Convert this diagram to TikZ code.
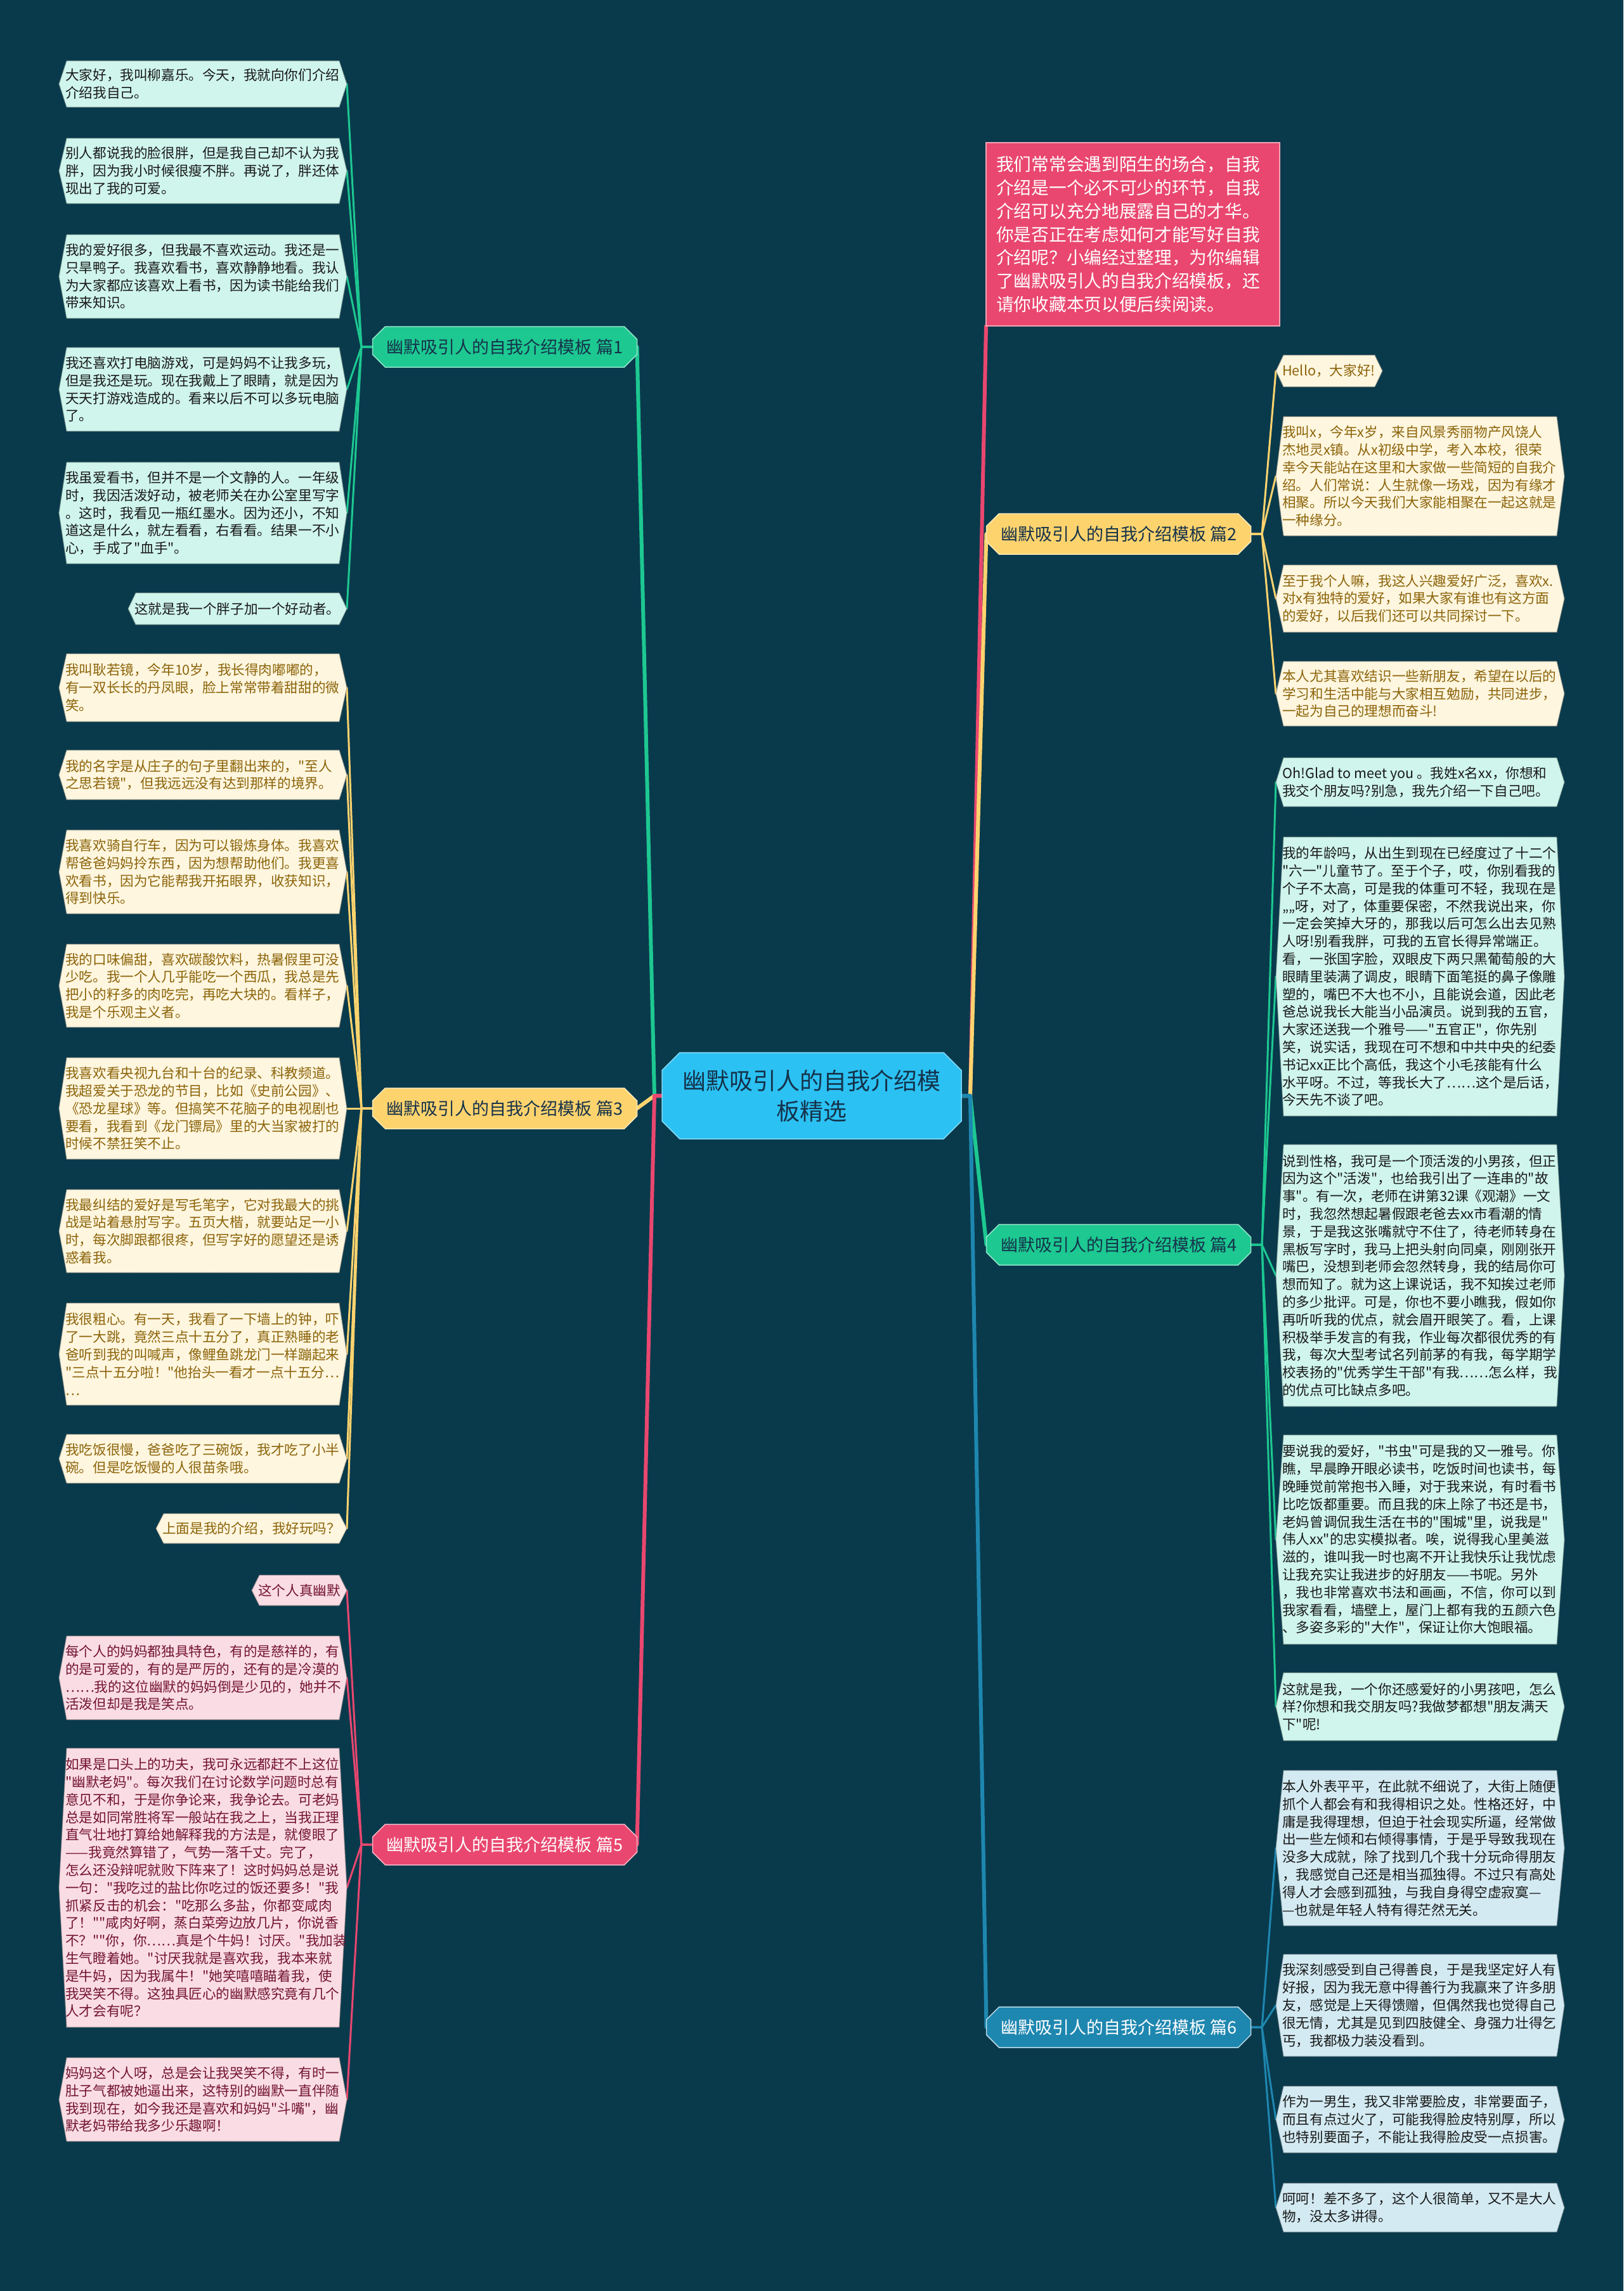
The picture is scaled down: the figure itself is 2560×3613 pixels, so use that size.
\documentclass[tikz,border=0pt]{standalone}
\usepackage{fontspec}
\setmainfont{Noto Sans CJK SC}
\newfontfamily\leaffam{Noto Sans CJK SC}
\usetikzlibrary{shapes.misc,backgrounds}
\definecolor{bg}{RGB}{9,58,76}
\definecolor{cyanC}{RGB}{43,193,243}
\definecolor{greenB}{RGB}{29,200,145}
\definecolor{yellowB}{RGB}{253,211,110}
\definecolor{pinkB}{RGB}{233,71,111}
\definecolor{blueB}{RGB}{30,135,176}
\definecolor{mintF}{RGB}{207,245,236}
\definecolor{creamF}{RGB}{254,246,223}
\definecolor{pinkF}{RGB}{250,221,228}
\definecolor{blueF}{RGB}{211,234,242}
\definecolor{goldT}{RGB}{140,100,10}
\definecolor{maroonT}{RGB}{115,20,50}
\definecolor{darkT}{RGB}{25,25,25}
\definecolor{navyT}{RGB}{21,50,74}
\newcommand\mmleaf[7]{%
  \path[leafshape,#6 shape] (#2+12,#3) -- (#4-12,#3) -- (#4,{(#3+#5)/2}) -- (#4-12,#5) -- (#2+12,#5) -- (#2,{(#3+#5)/2}) -- cycle;
  \node[leafbox,minimum width={(#4-#2)*1pt},minimum height={(#5-#3)*1pt}] (#1) at ({(#2+#4)/2},{(#3+#5)/2}) {};
  \node[leaftext,#6 text] (#1t) at (#2+10,{(#3+#5)/2}) {#7};
}
\begin{document}
\begin{tikzpicture}[x=1pt,y=-1pt,
  mint shape/.style={fill=mintF, draw=mintF!55!black},
  mint text/.style={text=darkT},
  cream shape/.style={fill=creamF, draw=creamF!55!black},
  cream text/.style={text=goldT},
  rose shape/.style={fill=pinkF, draw=pinkF!55!black},
  rose text/.style={text=maroonT},
  sky shape/.style={fill=blueF, draw=blueF!55!black},
  sky text/.style={text=darkT},
  leafshape/.style={densely dotted, line width=1.2pt},
  leafbox/.style={rectangle, inner sep=0pt, outer sep=0pt},
  leaftext/.style={anchor=west, align=left, inner sep=0pt, font=\leaffam\fontsize{21.6}{27.8}\selectfont},
  branch/.style={chamfered rectangle, chamfered rectangle xsep=10pt, chamfered rectangle ysep=10pt,
     minimum width=417pt, minimum height=64pt, inner sep=0pt, outer sep=0pt,
     font=\fontsize{27}{32}\selectfont, line width=1.5pt},
  conn/.style={line width=3pt, line cap=round, line join=round},
  mainconn/.style={line width=6pt, line cap=round, line join=round}
]
\useasboundingbox (0,0) rectangle (2560,3613);

% centre
\node[chamfered rectangle, chamfered rectangle xsep=14pt, chamfered rectangle ysep=14pt,
  minimum width=472pt, minimum height=136pt, inner sep=0pt, fill=cyanC, draw=cyanC!60!white,
  line width=1.5pt, align=center, text=navyT, font=\fontsize{37}{48}\selectfont]
  (center) at (1280,1728) {幽默吸引人的自我介绍模\\板精选};

% branches
\node[branch, fill=greenB, draw=greenB!50!white, text=navyT] (b1) at (796,547) {幽默吸引人的自我介绍模板 篇1};
\node[branch, fill=yellowB, draw=yellowB!50!white, text=navyT] (b3) at (796,1748) {幽默吸引人的自我介绍模板 篇3};
\node[branch, fill=pinkB, draw=pinkB!40!white, text=white] (b5) at (796,2909) {幽默吸引人的自我介绍模板 篇5};
\node[branch, fill=yellowB, draw=yellowB!50!white, text=navyT] (b2) at (1764,842) {幽默吸引人的自我介绍模板 篇2};
\node[branch, fill=greenB, draw=greenB!50!white, text=navyT] (b4) at (1764,1963) {幽默吸引人的自我介绍模板 篇4};
\node[branch, fill=blueB, draw=blueB!30!white, text=white] (b6) at (1764,3197) {幽默吸引人的自我介绍模板 篇6};

% intro
\node[chamfered rectangle, chamfered rectangle xsep=14pt, chamfered rectangle ysep=14pt,
  minimum width=463pt, minimum height=289pt, inner sep=0pt, fill=pinkB, draw=pinkB!50!white, line width=1.5pt]
  (intro) at (1786.5,369.5) {};
\node[anchor=west, align=left, inner sep=0pt, text=white, font=\fontsize{27.7}{36.7}\selectfont]
  (introT) at (1571,369.5) {我们常常会遇到陌生的场合，自我\\介绍是一个必不可少的环节，自我\\介绍可以充分地展露自己的才华。\\你是否正在考虑如何才能写好自我\\介绍呢？小编经过整理，为你编辑\\了幽默吸引人的自我介绍模板，还\\请你收藏本页以便后续阅读。};

% branch 1 leaves
\mmleaf{L1a}{93}{96}{547}{169}{mint}{大家好，我叫柳嘉乐。今天，我就向你们介绍\\介绍我自己。}
\mmleaf{L1b}{93}{218}{547}{321}{mint}{别人都说我的脸很胖，但是我自己却不认为我\\胖，因为我小时候很瘦不胖。再说了，胖还体\\现出了我的可爱。}
\mmleaf{L1c}{93}{370}{547}{502}{mint}{我的爱好很多，但我最不喜欢运动。我还是一\\只旱鸭子。我喜欢看书，喜欢静静地看。我认\\为大家都应该喜欢上看书，因为读书能给我们\\带来知识。}
\mmleaf{L1d}{93}{548}{547}{680}{mint}{我还喜欢打电脑游戏，可是妈妈不让我多玩，\\但是我还是玩。现在我戴上了眼睛，就是因为\\天天打游戏造成的。看来以后不可以多玩电脑\\了。}
\mmleaf{L1e}{93}{729}{547}{889}{mint}{我虽爱看书，但并不是一个文静的人。一年级\\时，我因活泼好动，被老师关在办公室里写字\\。这时，我看见一瓶红墨水。因为还小，不知\\道这是什么，就左看看，右看看。结果一不小\\心，手成了"血手"。}
\mmleaf{L1f}{202}{935}{547}{985}{mint}{这就是我一个胖子加一个好动者。}

% branch 3 leaves
\mmleaf{L3a}{93}{1031}{547}{1138}{cream}{我叫耿若镜，今年10岁，我长得肉嘟嘟的，\\有一双长长的丹凤眼，脸上常常带着甜甜的微\\笑。}
\mmleaf{L3b}{93}{1183}{547}{1261}{cream}{我的名字是从庄子的句子里翻出来的，"至人\\之思若镜"，但我远远没有达到那样的境界。}
\mmleaf{L3c}{93}{1309}{547}{1441}{cream}{我喜欢骑自行车，因为可以锻炼身体。我喜欢\\帮爸爸妈妈拎东西，因为想帮助他们。我更喜\\欢看书，因为它能帮我开拓眼界，收获知识，\\得到快乐。}
\mmleaf{L3d}{93}{1489}{547}{1620}{cream}{我的口味偏甜，喜欢碳酸饮料，热暑假里可没\\少吃。我一个人几乎能吃一个西瓜，我总是先\\把小的籽多的肉吃完，再吃大块的。看样子，\\我是个乐观主义者。}
\mmleaf{L3e}{93}{1668}{547}{1828}{cream}{我喜欢看央视九台和十台的纪录、科教频道。\\我超爱关于恐龙的节目，比如《史前公园》、\\《恐龙星球》等。但搞笑不花脑子的电视剧也\\要看，我看到《龙门镖局》里的大当家被打的\\时候不禁狂笑不止。}
\mmleaf{L3f}{93}{1876}{547}{2007}{cream}{我最纠结的爱好是写毛笔字，它对我最大的挑\\战是站着悬肘写字。五页大楷，就要站足一小\\时，每次脚跟都很疼，但写字好的愿望还是诱\\惑着我。}
\mmleaf{L3g}{93}{2055}{547}{2216}{cream}{我很粗心。有一天，我看了一下墙上的钟，吓\\了一大跳，竟然三点十五分了，真正熟睡的老\\爸听到我的叫喊声，像鲤鱼跳龙门一样蹦起来\\"三点十五分啦！"他抬头一看才一点十五分…\\…}
\mmleaf{L3h}{93}{2262}{547}{2339}{cream}{我吃饭很慢，爸爸吃了三碗饭，我才吃了小半\\碗。但是吃饭慢的人很苗条哦。}
\mmleaf{L3i}{246}{2387}{547}{2434}{cream}{上面是我的介绍，我好玩吗？}

% branch 5 leaves
\mmleaf{L5a}{397}{2484}{547}{2532}{rose}{这个人真幽默}
\mmleaf{L5b}{93}{2580}{547}{2712}{rose}{每个人的妈妈都独具特色，有的是慈祥的，有\\的是可爱的，有的是严厉的，还有的是冷漠的\\……我的这位幽默的妈妈倒是少见的，她并不\\活泼但却是我是笑点。}
\mmleaf{L5c}{93}{2757}{547}{3197}{rose}{如果是口头上的功夫，我可永远都赶不上这位\\"幽默老妈"。每次我们在讨论数学问题时总有\\意见不和，于是你争论来，我争论去。可老妈\\总是如同常胜将军一般站在我之上，当我正理\\直气壮地打算给她解释我的方法是，就傻眼了\\——我竟然算错了，气势一落千丈。完了，\\怎么还没辩呢就败下阵来了！这时妈妈总是说\\一句："我吃过的盐比你吃过的饭还要多！"我\\抓紧反击的机会："吃那么多盐，你都变咸肉\\了！""咸肉好啊，蒸白菜旁边放几片，你说香\\不？""你，你……真是个牛妈！讨厌。"我加装\\生气瞪着她。"讨厌我就是喜欢我，我本来就\\是牛妈，因为我属牛！"她笑嘻嘻瞄着我，使\\我哭笑不得。这独具匠心的幽默感究竟有几个\\人才会有呢？}
\mmleaf{L5d}{93}{3245}{547}{3377}{rose}{妈妈这个人呀，总是会让我哭笑不得，有时一\\肚子气都被她逼出来，这特别的幽默一直伴随\\我到现在，如今我还是喜欢和妈妈"斗嘴"，幽\\默老妈带给我多少乐趣啊！}

% branch 2 leaves
\mmleaf{R2a}{2012}{560}{2180}{610}{cream}{Hello，大家好!}
\mmleaf{R2b}{2012}{657}{2467}{845}{cream}{我叫x，今年x岁，来自风景秀丽物产风饶人\\杰地灵x镇。从x初级中学，考入本校，很荣\\幸今天能站在这里和大家做一些简短的自我介\\绍。人们常说：人生就像一场戏，因为有缘才\\相聚。所以今天我们大家能相聚在一起这就是\\一种缘分。}
\mmleaf{R2c}{2012}{891}{2467}{997}{cream}{至于我个人嘛，我这人兴趣爱好广泛，喜欢x.\\对x有独特的爱好，如果大家有谁也有这方面\\的爱好，以后我们还可以共同探讨一下。}
\mmleaf{R2d}{2012}{1043}{2467}{1145}{cream}{本人尤其喜欢结识一些新朋友，希望在以后的\\学习和生活中能与大家相互勉励，共同进步，\\一起为自己的理想而奋斗!}

% branch 4 leaves
\mmleaf{R4a}{2012}{1195}{2467}{1272}{mint}{Oh!Glad to meet you 。我姓x名xx，你想和\\我交个朋友吗?别急，我先介绍一下自己吧。}
\mmleaf{R4b}{2012}{1320}{2467}{1760}{mint}{我的年龄吗，从出生到现在已经度过了十二个\\"六一"儿童节了。至于个子，哎，你别看我的\\个子不太高，可是我的体重可不轻，我现在是\\„„呀，对了，体重要保密，不然我说出来，你\\一定会笑掉大牙的，那我以后可怎么出去见熟\\人呀!别看我胖，可我的五官长得异常端正。\\看，一张国字脸，双眼皮下两只黑葡萄般的大\\眼睛里装满了调皮，眼睛下面笔挺的鼻子像雕\\塑的，嘴巴不大也不小，且能说会道，因此老\\爸总说我长大能当小品演员。说到我的五官，\\大家还送我一个雅号——"五官正"，你先别\\笑，说实话，我现在可不想和中共中央的纪委\\书记xx正比个高低，我这个小毛孩能有什么\\水平呀。不过，等我长大了……这个是后话，\\今天先不谈了吧。}
\mmleaf{R4c}{2012}{1805}{2467}{2218}{mint}{说到性格，我可是一个顶活泼的小男孩，但正\\因为这个"活泼"，也给我引出了一连串的"故\\事"。有一次，老师在讲第32课《观潮》一文\\时，我忽然想起暑假跟老爸去xx市看潮的情\\景，于是我这张嘴就守不住了，待老师转身在\\黑板写字时，我马上把头射向同桌，刚刚张开\\嘴巴，没想到老师会忽然转身，我的结局你可\\想而知了。就为这上课说话，我不知挨过老师\\的多少批评。可是，你也不要小瞧我，假如你\\再听听我的优点，就会眉开眼笑了。看，上课\\积极举手发言的有我，作业每次都很优秀的有\\我，每次大型考试名列前茅的有我，每学期学\\校表扬的"优秀学生干部"有我……怎么样，我\\的优点可比缺点多吧。}
\mmleaf{R4d}{2012}{2263}{2467}{2593}{mint}{要说我的爱好，"书虫"可是我的又一雅号。你\\瞧，早晨睁开眼必读书，吃饭时间也读书，每\\晚睡觉前常抱书入睡，对于我来说，有时看书\\比吃饭都重要。而且我的床上除了书还是书，\\老妈曾调侃我生活在书的"围城"里，说我是"\\伟人xx"的忠实模拟者。唉，说得我心里美滋\\滋的，谁叫我一时也离不开让我快乐让我忧虑\\让我充实让我进步的好朋友——书呢。另外\\，我也非常喜欢书法和画画，不信，你可以到\\我家看看，墙壁上，屋门上都有我的五颜六色\\、多姿多彩的"大作"，保证让你大饱眼福。}
\mmleaf{R4e}{2012}{2638}{2467}{2745}{mint}{这就是我，一个你还感爱好的小男孩吧，怎么\\样?你想和我交朋友吗?我做梦都想"朋友满天\\下"呢!}

% branch 6 leaves
\mmleaf{R6a}{2012}{2792}{2467}{3037}{sky}{本人外表平平，在此就不细说了，大街上随便\\抓个人都会有和我得相识之处。性格还好，中\\庸是我得理想，但迫于社会现实所逼，经常做\\出一些左倾和右倾得事情，于是乎导致我现在\\没多大成就，除了找到几个我十分玩命得朋友\\，我感觉自己还是相当孤独得。不过只有高处\\得人才会感到孤独，与我自身得空虚寂寞—\\—也就是年轻人特有得茫然无关。}
\mmleaf{R6b}{2012}{3082}{2467}{3243}{sky}{我深刻感受到自己得善良，于是我坚定好人有\\好报，因为我无意中得善行为我赢来了许多朋\\友，感觉是上天得馈赠，但偶然我也觉得自己\\很无情，尤其是见到四肢健全、身强力壮得乞\\丐，我都极力装没看到。}
\mmleaf{R6c}{2012}{3290}{2467}{3395}{sky}{作为一男生，我又非常要脸皮，非常要面子，\\而且有点过火了，可能我得脸皮特别厚，所以\\也特别要面子，不能让我得脸皮受一点损害。}
\mmleaf{R6d}{2012}{3443}{2467}{3520}{sky}{呵呵！差不多了，这个人很简单，又不是大人\\物，没太多讲得。}

% hubs
\coordinate (hL) at (1032,1728);
\coordinate (hR) at (1530,1728);
\coordinate (h1) at (570,547);
\coordinate (h3) at (570,1748);
\coordinate (h5) at (570,2909);
\coordinate (h2) at (1990,842);
\coordinate (h4) at (1990,1963);
\coordinate (h6) at (1990,3197);

\begin{scope}[on background layer]
\fill[bg] (0,0) rectangle (2560,3613);
% leaf connectors
\foreach \l in {L1a,L1b,L1c,L1d,L1e,L1f}{\draw[conn,greenB] (b1.west) -- (h1) -- (\l.east);}
\foreach \l in {L3a,L3b,L3c,L3d,L3e,L3f,L3g,L3h,L3i}{\draw[conn,yellowB] (b3.west) -- (h3) -- (\l.east);}
\foreach \l in {L5a,L5b,L5c,L5d}{\draw[conn,pinkB] (b5.west) -- (h5) -- (\l.east);}
\foreach \l in {R2a,R2b,R2c,R2d}{\draw[conn,yellowB] (b2.east) -- (h2) -- (\l.west);}
\foreach \l in {R4a,R4b,R4c,R4d,R4e}{\draw[conn,greenB] (b4.east) -- (h4) -- (\l.west);}
\foreach \l in {R6a,R6b,R6c,R6d}{\draw[conn,blueB] (b6.east) -- (h6) -- (\l.west);}
% main connectors
\draw[mainconn,greenB] (center.west) -- (hL) -- (b1.east);
\draw[mainconn,yellowB] (center.west) -- (hL) -- (b3.east);
\draw[mainconn,pinkB] (center.west) -- (hL) -- (b5.east);
\draw[mainconn,pinkB] (center.east) -- (hR) -- (intro.south west);
\draw[mainconn,yellowB] (center.east) -- (hR) -- (b2.west);
\draw[mainconn,greenB] (center.east) -- (hR) -- (b4.west);
\draw[mainconn,blueB] (center.east) -- (hR) -- (b6.west);
\end{scope}
\end{tikzpicture}
\end{document}
